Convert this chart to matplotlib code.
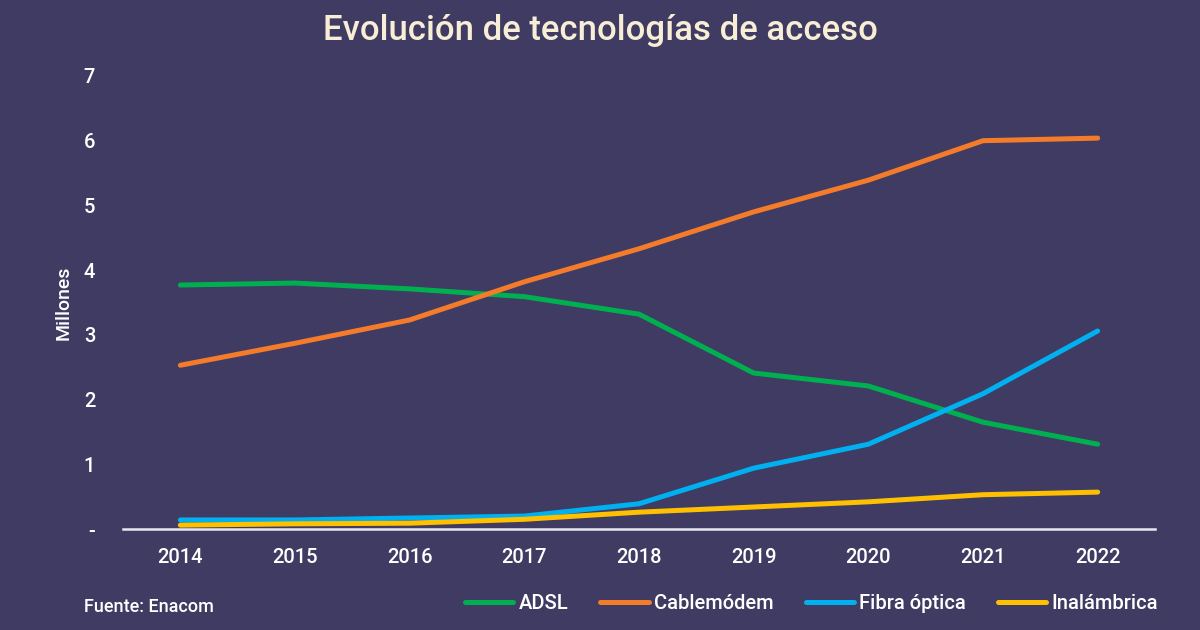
import matplotlib
matplotlib.use("Agg")
import matplotlib.pyplot as plt
from matplotlib.ticker import FuncFormatter

years = [2014, 2015, 2016, 2017, 2018, 2019, 2020, 2021, 2022]
adsl = [3.77, 3.80, 3.71, 3.59, 3.32, 2.41, 2.21, 1.65, 1.31]
cablemodem = [2.53, 2.87, 3.23, 3.82, 4.33, 4.90, 5.39, 6.00, 6.04]
fibra = [0.14, 0.14, 0.17, 0.20, 0.39, 0.94, 1.31, 2.09, 3.06]
inalambrica = [0.06, 0.08, 0.09, 0.15, 0.26, 0.34, 0.42, 0.53, 0.57]
series_names = ["ADSL", "Cablemódem", "Fibra óptica", "Inalámbrica"]
y_ticks = [0, 1, 2, 3, 4, 5, 6, 7]

BG = "#3f3b63"
colors = ["#00b050", "#f47b2a", "#00b0f0", "#ffc000"]
plt.rcParams['font.family'] = ['Roboto', 'DejaVu Sans']

fig = plt.figure(figsize=(12, 6.3), dpi=100, facecolor=BG)
ax = fig.add_axes([0.1025, 0.1603, 0.86, 0.7191], facecolor=BG)

for vals, name, c in zip([adsl, cablemodem, fibra, inalambrica], series_names, colors):
    ax.plot(years, vals, color=c, lw=3.6, label=name, solid_capstyle='round', solid_joinstyle='round')

ax.set_xlim(2013.5, 2022.5)
ax.set_ylim(0, 7)
ax.set_xticks(years)
ax.set_yticks(y_ticks)
ax.yaxis.set_major_formatter(FuncFormatter(lambda v, p: "-" if v == 0 else f"{int(v)}"))
for s in ["top", "right", "left"]:
    ax.spines[s].set_visible(False)
ax.spines["bottom"].set_color("#e8e6f2")
ax.spines["bottom"].set_linewidth(1.8)
ax.spines["bottom"].set_zorder(0)
ax.tick_params(axis="both", length=0, colors="white", labelsize=14.5)
ax.tick_params(axis="y", pad=20)
ax.tick_params(axis="x", pad=14)
for lab in ax.get_xticklabels() + ax.get_yticklabels():
    lab.set_fontweight("medium")
ax.set_ylabel("Millones", color="white", fontsize=14, fontweight="medium", labelpad=8)

fig.text(0.5, 0.952, "Evolución de tecnologías de acceso", ha="center", va="center",
         color="#f7eed5", fontsize=25, fontweight="medium")
fig.text(0.07, 0.036, "Fuente: Enacom", ha="left", va="center", color="white", fontsize=13, fontweight="medium")

leg = fig.legend(loc="center right", bbox_to_anchor=(0.98, 0.042), ncol=4, frameon=False,
                 handlelength=2.4, handletextpad=0.25, columnspacing=1.6,
                 prop={"size": 14.5, "weight": "medium"})
for t in leg.get_texts():
    t.set_color("white")

fig.savefig("out.png", dpi=100, facecolor=BG)
